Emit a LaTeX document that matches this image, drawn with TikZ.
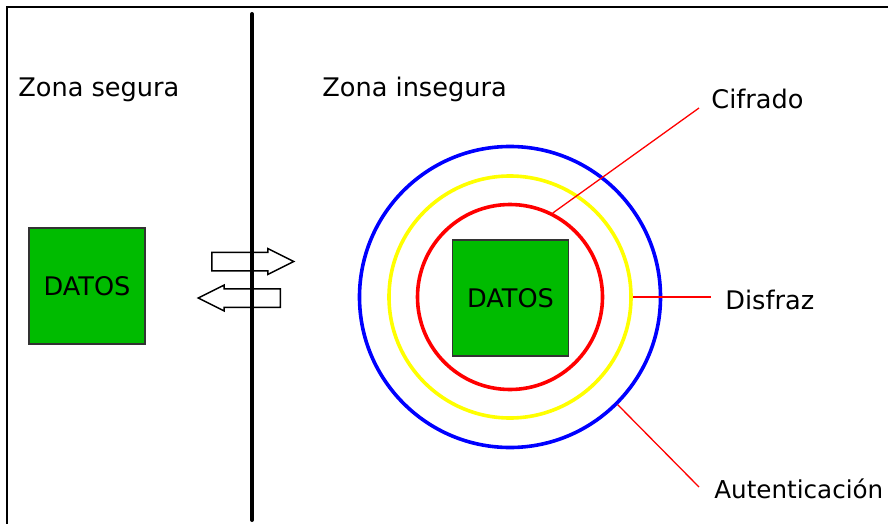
\documentclass[tikz,border=0pt]{standalone}
\usepackage{fontspec}
\setmainfont{DejaVu Sans}
\usetikzlibrary{shapes.arrows,positioning}

\definecolor{datosverde}{HTML}{00BB00}
\definecolor{anilloazul}{HTML}{0000FF}
\definecolor{anilloamarillo}{HTML}{FFFF00}
\definecolor{anillorojo}{HTML}{FF0000}

\begin{document}
\begin{tikzpicture}[x=0.5pt, y=-0.5pt,
  every node/.style={font=\fontsize{12.8}{15}\selectfont},
  datos/.style={draw=black!80, line width=0.7pt, fill=datosverde,
                minimum size=58pt, inner sep=0pt},
  anillo/.style={circle, draw, line width=1.8pt, minimum size=#1, inner sep=0pt},
  flujo/.style={single arrow, draw, line width=0.75pt, inner xsep=0pt,
                inner ysep=4.25pt, single arrow head extend=1.8pt,
                single arrow tip angle=53, minimum height=41pt},
  guia/.style={draw=anillorojo, line width=0.65pt},
  etiqueta/.style={anchor=base west, inner sep=0pt}]

  \useasboundingbox (0,0) rectangle (888,524);

  %% --- marco y frontera ---
  \draw[line width=1.3pt] (7,524) |- (888,7);
  \draw[line width=2pt, line cap=round] (252,14) -- (252,520);

  %% --- zona segura ---
  \node[etiqueta] (segura) at (18,97) {Zona segura};
  \node[datos] (datosA) at (87,286) {DATOS};

  %% --- flujo entre zonas ---
  \node[flujo, anchor=tail] (entra) at (211,261.5) {};
  \node[flujo, shape border rotate=180, anchor=tail] (sale) at (281,298) {};

  %% --- zona insegura ---
  \node[etiqueta] (insegura) at (322,97) {Zona insegura};
  \node[anillo=150.5pt, draw=anilloazul]     (azul)     at (510,297) {};
  \node[anillo=121pt,   draw=anilloamarillo] (amarillo) at (510,297) {};
  \node[anillo=92.5pt,  draw=anillorojo]     (rojo)     at (510,297) {};
  \node[datos] (datosB) at (510.5,298) {DATOS};

  %% --- capas de proteccion ---
  \coordinate (finCifrado) at (699,108);
  \coordinate (finDisfraz) at (711,297);
  \coordinate (finAutent)  at (699,487);
  \node[etiqueta] (cifrado) at (711,109) {Cifrado};
  \node[etiqueta] (disfraz) at (725,309) {Disfraz};
  \node[etiqueta, font=\fontsize{12.3}{15}\selectfont] (autent) at (714,498) {Autenticación};
  \draw[guia] (rojo.63.7) -- (finCifrado);
  \draw[guia] (amarillo.east) -- (finDisfraz);
  \draw[guia] (azul.-45.3) -- (finAutent);
\end{tikzpicture}
\end{document}
